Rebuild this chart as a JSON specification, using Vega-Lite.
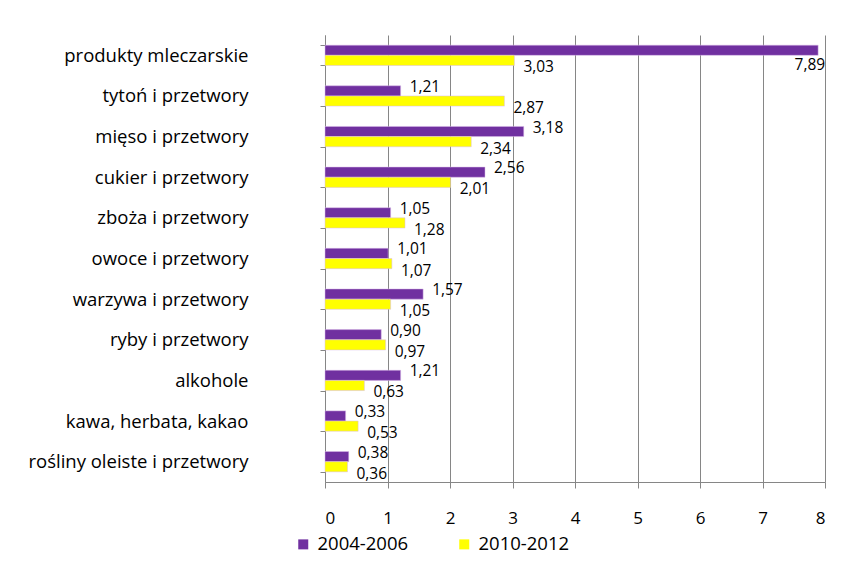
{
  "$schema": "https://vega.github.io/schema/vega-lite/v6.json",
  "width": 500,
  "height": 447,
  "autosize": {"type": "none"},
  "padding": {"left": 325, "top": 35, "right": 17, "bottom": 82},
  "background": "white",
  "config": {
    "locale": {"number": {"decimal": ",", "thousands": " ", "grouping": [3], "currency": ["", " zł"]}},
    "view": {"stroke": null},
    "font": "Open Sans"
  },
  "data": {
    "values": [
      {"kat": "produkty mleczarskie", "okres": "2004-2006", "v": 7.89},
      {"kat": "produkty mleczarskie", "okres": "2010-2012", "v": 3.03},
      {"kat": "tytoń i przetwory", "okres": "2004-2006", "v": 1.21},
      {"kat": "tytoń i przetwory", "okres": "2010-2012", "v": 2.87},
      {"kat": "mięso i przetwory", "okres": "2004-2006", "v": 3.18},
      {"kat": "mięso i przetwory", "okres": "2010-2012", "v": 2.34},
      {"kat": "cukier i przetwory", "okres": "2004-2006", "v": 2.56},
      {"kat": "cukier i przetwory", "okres": "2010-2012", "v": 2.01},
      {"kat": "zboża i przetwory", "okres": "2004-2006", "v": 1.05},
      {"kat": "zboża i przetwory", "okres": "2010-2012", "v": 1.28},
      {"kat": "owoce i przetwory", "okres": "2004-2006", "v": 1.01},
      {"kat": "owoce i przetwory", "okres": "2010-2012", "v": 1.07},
      {"kat": "warzywa i przetwory", "okres": "2004-2006", "v": 1.57},
      {"kat": "warzywa i przetwory", "okres": "2010-2012", "v": 1.05},
      {"kat": "ryby i przetwory", "okres": "2004-2006", "v": 0.90},
      {"kat": "ryby i przetwory", "okres": "2010-2012", "v": 0.97},
      {"kat": "alkohole", "okres": "2004-2006", "v": 1.21},
      {"kat": "alkohole", "okres": "2010-2012", "v": 0.63},
      {"kat": "kawa, herbata, kakao", "okres": "2004-2006", "v": 0.33},
      {"kat": "kawa, herbata, kakao", "okres": "2010-2012", "v": 0.53},
      {"kat": "rośliny oleiste i przetwory", "okres": "2004-2006", "v": 0.38},
      {"kat": "rośliny oleiste i przetwory", "okres": "2010-2012", "v": 0.36}
    ]
  },
  "encoding": {
    "y": {
      "field": "kat", "type": "nominal", "sort": null, "title": null,
      "scale": {"paddingInner": 0.5, "paddingOuter": 0.25},
      "axis": {
        "tickBand": "extent", "tickSize": 5, "tickColor": "#868686",
        "domainColor": "#868686", "labelPadding": 72,
        "labelFontSize": 18.5, "labelColor": "#000000", "labelLimit": 320
      }
    },
    "yOffset": {"field": "okres", "type": "nominal", "sort": ["2004-2006", "2010-2012"]},
    "x": {
      "field": "v", "type": "quantitative", "title": null,
      "scale": {"domain": [0, 8], "nice": false},
      "axis": {
        "values": [0, 1, 2, 3, 4, 5, 6, 7, 8], "format": "d",
        "grid": true, "gridColor": "#868686", "gridWidth": 1,
        "domainColor": "#868686", "tickColor": "#868686", "tickSize": 6,
        "labelPadding": 22, "labelFontSize": 17, "labelColor": "#000000"
      }
    }
  },
  "layer": [
    {
      "mark": {"type": "bar", "stroke": "#d8b8e8", "strokeWidth": 0.5},
      "encoding": {
        "color": {
          "field": "okres", "type": "nominal",
          "scale": {"domain": ["2004-2006", "2010-2012"], "range": ["#7030A0", "#FFFF00"]},
          "legend": {
            "title": null, "orient": "none", "direction": "horizontal",
            "legendX": -31, "legendY": 500,
            "symbolType": "square", "symbolSize": 100, "symbolStrokeWidth": 0,
            "labelFontSize": 18.5, "labelColor": "#000000",
            "columnPadding": 46, "labelOffset": 5
          }
        }
      }
    },
    {
      "transform": [{"filter": "datum.okres == '2004-2006' && datum.v < 7"}],
      "mark": {"type": "text", "align": "left", "dx": 9, "dy": -4, "fontSize": 15.5, "color": "#000000"},
      "encoding": {"text": {"field": "v", "type": "quantitative", "format": ".2f"}}
    },
    {
      "transform": [{"filter": "datum.okres == '2010-2012'"}],
      "mark": {"type": "text", "align": "left", "dx": 9, "dy": 7, "fontSize": 15.5, "color": "#000000"},
      "encoding": {"text": {"field": "v", "type": "quantitative", "format": ".2f"}}
    },
    {
      "transform": [{"filter": "datum.okres == '2004-2006' && datum.v >= 7"}],
      "mark": {"type": "text", "align": "right", "dx": 7, "dy": 15, "fontSize": 15.5, "color": "#000000"},
      "encoding": {"text": {"field": "v", "type": "quantitative", "format": ".2f"}}
    }
  ]
}
